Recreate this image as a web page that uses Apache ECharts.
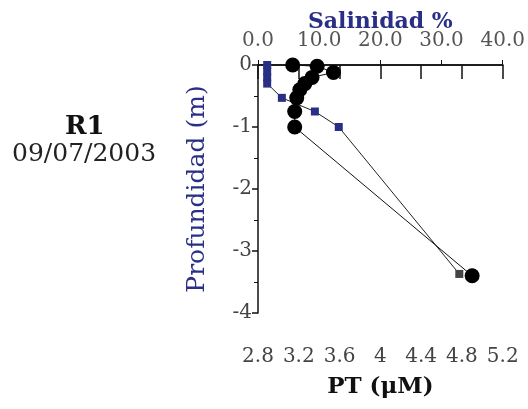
<!DOCTYPE html>
<html>
<head>
<meta charset="utf-8">
<script src="https://cdn.jsdelivr.net/npm/echarts@6/dist/echarts.min.js"></script>
<style>
  html, body { margin: 0; padding: 0; background: #fff; }
  #chart { width: 528px; height: 409px; }
</style>
</head>
<body>
<div id="chart"></div>
<script>
// profundidad (m) y valores
var salDepth = [0, -0.1, -0.2, -0.3, -0.53, -0.75, -1.0, -3.37];
var salValue = [1.5, 1.5, 1.5, 1.5, 3.9, 9.3, 13.2, 32.9];
var ptDepth = [0, -0.02, -0.12, -0.2, -0.3, -0.4, -0.53, -0.75, -1.0, -3.4];
var ptValue = [3.14, 3.38, 3.54, 3.33, 3.26, 3.21, 3.18, 3.16, 3.16, 4.90];
var salTicks = [0, 10, 20, 30, 40];
var ptTicks = [2.8, 3.2, 3.6, 4, 4.4, 4.8, 5.2];

var serif = 'DejaVu Serif';
var navy = '#2a2f86';

var chart = echarts.init(document.getElementById('chart'));

chart.setOption({
    backgroundColor: '#fff',
    animation: false,
    graphic: [
        { type: 'text', left: 65, top: 114, style: { text: 'R1', font: 'bold 26px "DejaVu Serif"', fill: '#111' } },
        { type: 'text', left: 12, top: 142, style: { text: '09/07/2003', font: '25px "DejaVu Serif"', fill: '#222' } }
    ],
    grid: { left: 258, right: 25, top: 65, bottom: 96 },
    xAxis: [{
        type: 'value',
        position: 'bottom',
        min: 2.8, max: 5.2, interval: 0.4,
        name: 'PT (μM)',
        nameLocation: 'middle',
        nameGap: 63,
        nameTextStyle: { fontFamily: serif, fontSize: 23, fontWeight: 'bold', color: '#111' },
        axisLine: { lineStyle: { color: '#111', width: 1.5 } },
        axisTick: { length: 14, lineStyle: { color: '#111', width: 1.5 } },
        axisLabel: {
            margin: 34, fontFamily: serif, fontSize: 20, color: '#444',
            formatter: function (v) {
                var r = Math.round(v * 10) / 10;
                return ptTicks.indexOf(r) >= 0 ? String(r) : '';
            }
        },
        splitLine: { show: false }
    }, {
        type: 'value',
        position: 'top',
        min: 0, max: 40, interval: 10,
        name: 'Salinidad %',
        nameLocation: 'middle',
        nameGap: 32,
        nameMoveOverlap: false,
        nameTextStyle: { fontFamily: serif, fontSize: 22, fontWeight: 'bold', color: navy },
        axisLine: { onZero: false, lineStyle: { color: '#111', width: 1.5 } },
        axisTick: { length: 5, lineStyle: { color: '#111' } },
        axisLabel: {
            margin: 14, fontFamily: serif, fontSize: 20, color: '#555',
            formatter: function (v) { return salTicks.indexOf(v) >= 0 ? v.toFixed(1) : ''; }
        },
        splitLine: { show: false }
    }],
    yAxis: {
        type: 'value',
        min: -4, max: 0, interval: 1,
        name: 'Profundidad (m)',
        nameLocation: 'middle',
        nameGap: 48,
        nameTextStyle: { fontFamily: serif, fontSize: 25, color: navy },
        axisLine: { onZero: false, lineStyle: { color: '#111', width: 1.5 } },
        axisTick: { length: 6, lineStyle: { color: '#111', width: 1.5 } },
        minorTick: { show: true, splitNumber: 2, length: 4, lineStyle: { color: '#111' } },
        axisLabel: { margin: 6, fontFamily: serif, fontSize: 20, color: '#444' },
        splitLine: { show: false }
    },
    series: [{
        name: 'Salinidad',
        type: 'line',
        xAxisIndex: 1,
        data: salValue.map(function (v, i) { return [v, salDepth[i]]; }),
        symbol: 'rect',
        symbolSize: 8,
        lineStyle: { color: '#222', width: 1 },
        itemStyle: {
            color: function (p) { return p.dataIndex === salValue.length - 1 ? '#444' : navy; }
        },
        z: 2
    }, {
        name: 'PT',
        type: 'line',
        xAxisIndex: 0,
        data: ptValue.map(function (v, i) { return [v, ptDepth[i]]; }),
        symbol: 'circle',
        symbolSize: 15,
        lineStyle: { color: '#111', width: 1 },
        itemStyle: { color: '#000' },
        z: 3
    }]
});
</script>
</body>
</html>
